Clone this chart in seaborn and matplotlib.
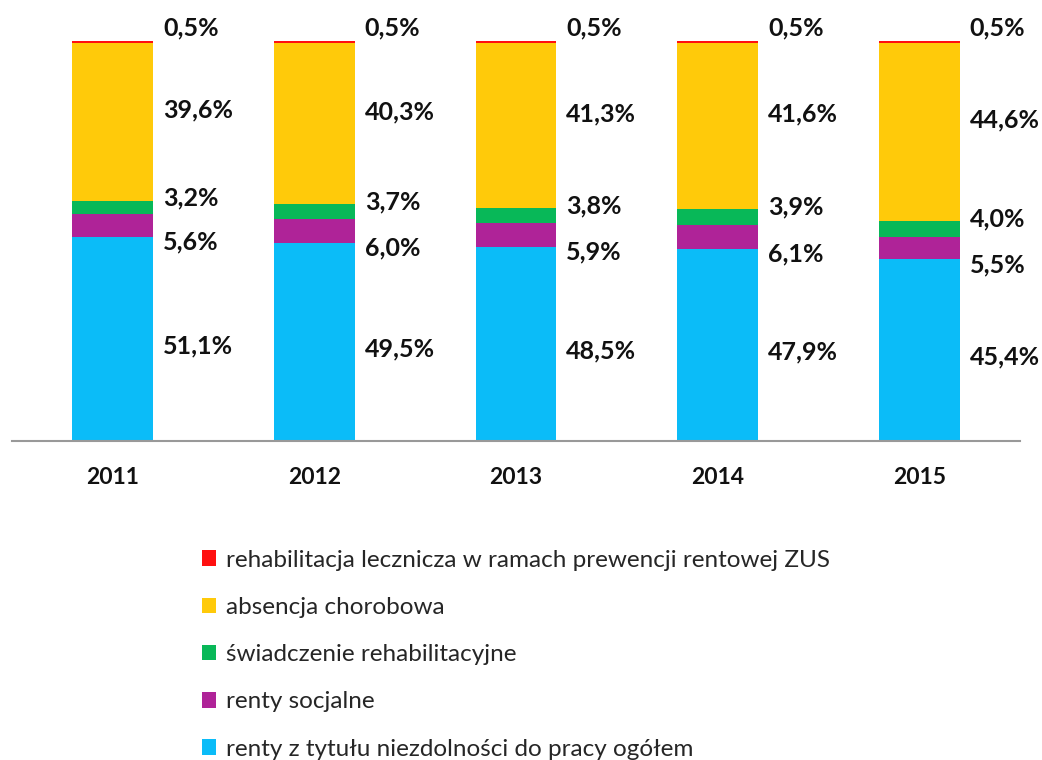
import numpy as np
import pandas as pd
import seaborn as sns
import matplotlib
matplotlib.use("Agg")
import matplotlib.pyplot as plt
from matplotlib.patches import Patch

years = ["2011", "2012", "2013", "2014", "2015"]
renty_niezdolnosc = [51.1, 49.5, 48.5, 47.9, 45.4]
renty_socjalne = [5.6, 6.0, 5.9, 6.1, 5.5]
swiadczenie = [3.2, 3.7, 3.8, 3.9, 4.0]
absencja = [39.6, 40.3, 41.3, 41.6, 44.6]
rehabilitacja = [0.5, 0.5, 0.5, 0.5, 0.5]

series_names = [
    "renty z tytułu niezdolności do pracy ogółem",
    "renty socjalne",
    "świadczenie rehabilitacyjne",
    "absencja chorobowa",
    "rehabilitacja lecznicza w ramach prewencji rentowej ZUS",
]
series_values = [renty_niezdolnosc, renty_socjalne, swiadczenie, absencja, rehabilitacja]
colors = ["#0BBCF8", "#AF2398", "#08B858", "#FFCA0A", "#FF1010"]
# label nudges (in % units) so the texts don't collide
label_offsets = [-1.8, -4.2, 2.5, 3.0, 3.5]

sns.set_style("white")
plt.rcParams["font.family"] = ["Lato", "DejaVu Sans"]

fig = plt.figure(figsize=(10.42, 7.6), dpi=100)
ax = fig.add_axes([12 / 1042, 1 - 441 / 760, 1008 / 1042, 400 / 760])

df = pd.DataFrame({"year": years})
cum = np.zeros(len(years))
cums = []
for vals in series_values:
    cum = cum + np.array(vals)
    cums.append(cum.copy())

# stacked bars: draw cumulative totals from the top down
for i in range(len(series_values) - 1, -1, -1):
    df["v"] = cums[i]
    sns.barplot(data=df, x="year", y="v", color=colors[i], width=0.4,
                saturation=1, ax=ax, linewidth=0, errorbar=None)

for i, vals in enumerate(series_values):
    for j, v in enumerate(vals):
        center = cums[i][j] - v / 2
        ax.text(j + 0.25, center + label_offsets[i], f"{v:.1f}%".replace(".", ","),
                ha="left", va="center", fontsize=18, fontweight="bold", color="#111111")

ax.set_xlim(-0.5, 4.5)
ax.set_ylim(0, 100)
ax.set_yticks([])
ax.set_xlabel("")
ax.set_ylabel("")
for s in ["top", "right", "left"]:
    ax.spines[s].set_visible(False)
ax.spines["bottom"].set_color("#999999")
ax.spines["bottom"].set_linewidth(1.5)
ax.set_xticks(range(len(years)))
ax.set_xticklabels(years, fontsize=16.5, fontweight="bold", color="#111111")
ax.tick_params(axis="x", which="major", length=0, pad=19)
ax.set_xticks(np.arange(-0.5, 5.0, 1.0), minor=True)
ax.tick_params(axis="x", which="minor", length=8, width=1.5, color="#999999", direction="out")

handles = [Patch(facecolor=colors[i], edgecolor="none") for i in range(4, -1, -1)]
labels = [series_names[i] for i in range(4, -1, -1)]
fig.legend(handles, labels, loc="upper left", bbox_to_anchor=(192 / 1042, 1 - 540 / 760),
           frameon=False, fontsize=17.5, handlelength=0.6, handleheight=0.6,
           handletextpad=0.4, labelspacing=1.08, borderaxespad=0)

fig.savefig("out.png", dpi=100)
